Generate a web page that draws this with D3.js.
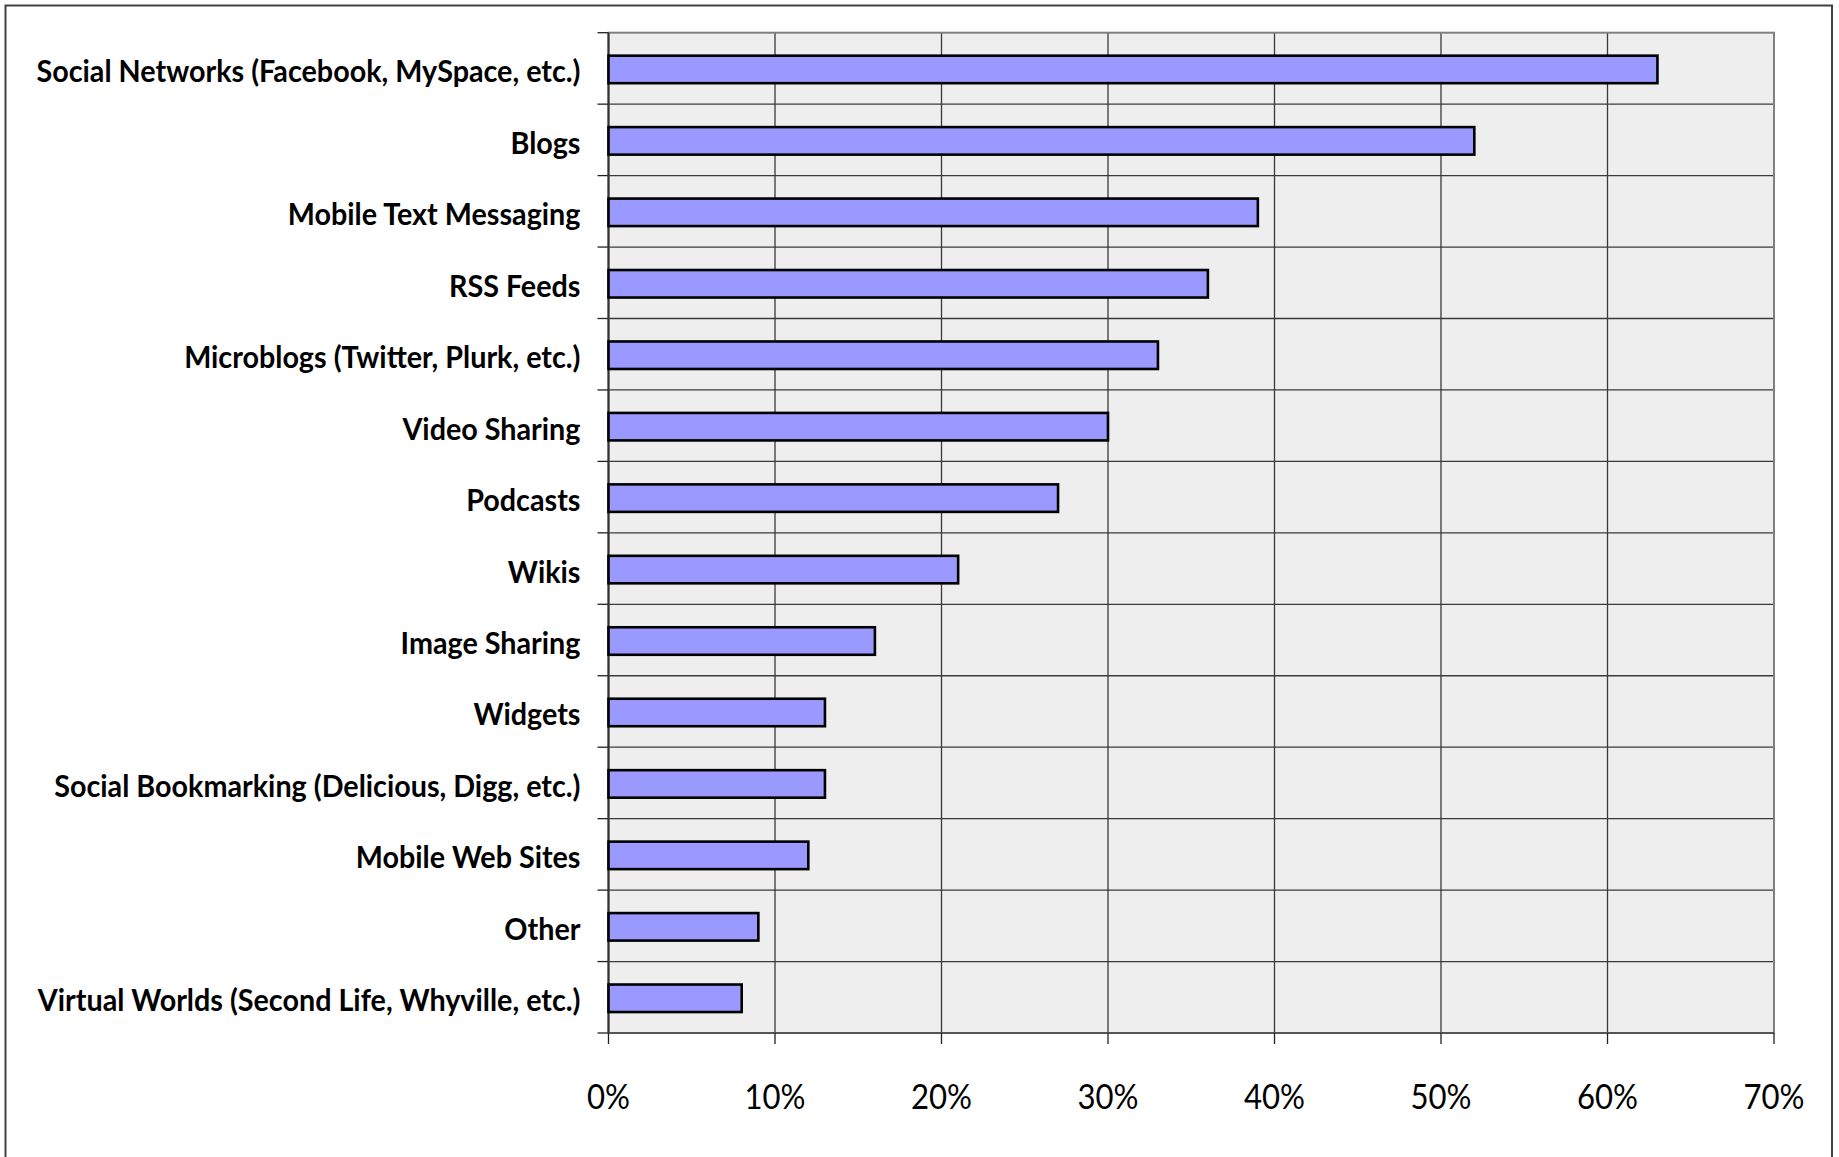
<!DOCTYPE html>
<html><head><meta charset="utf-8">
<script src="https://cdn.jsdelivr.net/npm/d3@7/dist/d3.min.js"></script>
<style>html,body{margin:0;padding:0;background:#fff;}svg{display:block;}</style>
</head><body>
<svg id="chart" width="1839" height="1157"></svg>
<script>
const categories = [
  "Social Networks (Facebook, MySpace, etc.)",
  "Blogs",
  "Mobile Text Messaging",
  "RSS Feeds",
  "Microblogs (Twitter, Plurk, etc.)",
  "Video Sharing",
  "Podcasts",
  "Wikis",
  "Image Sharing",
  "Widgets",
  "Social Bookmarking (Delicious, Digg, etc.)",
  "Mobile Web Sites",
  "Other",
  "Virtual Worlds (Second Life, Whyville, etc.)"
];
const values = [0.63, 0.52, 0.39, 0.36, 0.33, 0.30, 0.27, 0.21, 0.16, 0.13, 0.13, 0.12, 0.09, 0.08];
const tickValues = [0, 0.1, 0.2, 0.3, 0.4, 0.5, 0.6, 0.7];
const tickLabels = ["0%", "10%", "20%", "30%", "40%", "50%", "60%", "70%"];

const svg = d3.select("#chart");
const plot = {left: 608.5, right: 1774, top: 32.7, bottom: 1033};

// outer frame
svg.append("rect").attr("x", 5.5).attr("y", 5.5).attr("width", 1826.5).attr("height", 1170)
  .attr("fill", "#fff").attr("stroke", "#404040").attr("stroke-width", 2);

const x = d3.scaleLinear().domain([0, 0.7]).range([plot.left, plot.right]);
const y = d3.scaleBand().domain(categories).range([plot.top, plot.bottom]).padding(0);

// plot background
svg.append("rect").attr("x", plot.left).attr("y", plot.top)
  .attr("width", plot.right - plot.left).attr("height", plot.bottom - plot.top)
  .attr("fill", "#EEEEEE");

// gridlines
const boundaries = categories.map(c => y(c)).concat([plot.bottom]);
svg.append("g").selectAll("line.h").data(boundaries.slice(1, -1)).join("line")
  .attr("x1", plot.left).attr("x2", plot.right)
  .attr("y1", d => d).attr("y2", d => d)
  .attr("stroke", "#3a3a3a").attr("stroke-width", 1.3);
svg.append("g").selectAll("line.v").data(tickValues.slice(1, -1)).join("line")
  .attr("x1", d => x(d)).attr("x2", d => x(d))
  .attr("y1", plot.top).attr("y2", plot.bottom)
  .attr("stroke", "#3a3a3a").attr("stroke-width", 1.3);

// plot border
svg.append("rect").attr("x", plot.left).attr("y", plot.top)
  .attr("width", plot.right - plot.left).attr("height", plot.bottom - plot.top)
  .attr("fill", "none").attr("stroke", "#808080").attr("stroke-width", 2);

// y ticks
svg.append("g").selectAll("line").data(boundaries).join("line")
  .attr("x1", plot.left - 11).attr("x2", plot.left)
  .attr("y1", d => d).attr("y2", d => d)
  .attr("stroke", "#222").attr("stroke-width", 1.3);
// left axis line
svg.append("line").attr("x1", plot.left).attr("x2", plot.left)
  .attr("y1", plot.top).attr("y2", plot.bottom).attr("stroke", "#333").attr("stroke-width", 2);
// bottom axis line
svg.append("line").attr("x1", plot.left).attr("x2", plot.right)
  .attr("y1", plot.bottom).attr("y2", plot.bottom).attr("stroke", "#555").attr("stroke-width", 2);
// x ticks
svg.append("g").selectAll("line").data(tickValues).join("line")
  .attr("x1", d => x(d)).attr("x2", d => x(d))
  .attr("y1", plot.bottom).attr("y2", plot.bottom + 11)
  .attr("stroke", "#222").attr("stroke-width", 1.3);

// bars
const bh = y.bandwidth() * 0.385;
svg.append("g").selectAll("rect").data(categories).join("rect")
  .attr("x", x(0))
  .attr("y", (d) => y(d) + y.bandwidth() / 2 - bh / 2 + 1)
  .attr("width", (d, i) => x(values[i]) - x(0))
  .attr("height", bh)
  .attr("fill", "#9999FF").attr("stroke", "#000").attr("stroke-width", 2.6);

// category labels
const labs = svg.append("g").selectAll("text").data(categories).join("text")
  .attr("x", 580.5)
  .attr("y", d => y(d) + y.bandwidth() / 2 + 14)
  .attr("text-anchor", "end")
  .attr("font-family", "Lato, 'Open Sans', sans-serif")
  .attr("font-weight", "bold")
  .attr("font-size", 29.5)
  .attr("fill", "#000")
  .text(d => d);
const refW = labs.filter(d => d === categories[0]).node().getComputedTextLength();
const k = 544 / refW;
labs.each(function() {
  const w = this.getComputedTextLength();
  d3.select(this).attr("textLength", w * k).attr("lengthAdjust", "spacingAndGlyphs");
});

// x tick labels
const tl = svg.append("g").selectAll("text").data(tickValues).join("text")
  .attr("x", d => x(d))
  .attr("y", 1109)
  .attr("text-anchor", "middle")
  .attr("font-family", "Lato, 'Open Sans', sans-serif")
  .attr("font-size", 35)
  .attr("fill", "#000")
  .text((d, i) => tickLabels[i]);
const refT = tl.filter((d, i) => i === 1).node().getComputedTextLength();
const k2 = 61 / refT;
tl.each(function() {
  const w = this.getComputedTextLength();
  d3.select(this).attr("textLength", w * k2).attr("lengthAdjust", "spacingAndGlyphs");
});
</script>
</body></html>
